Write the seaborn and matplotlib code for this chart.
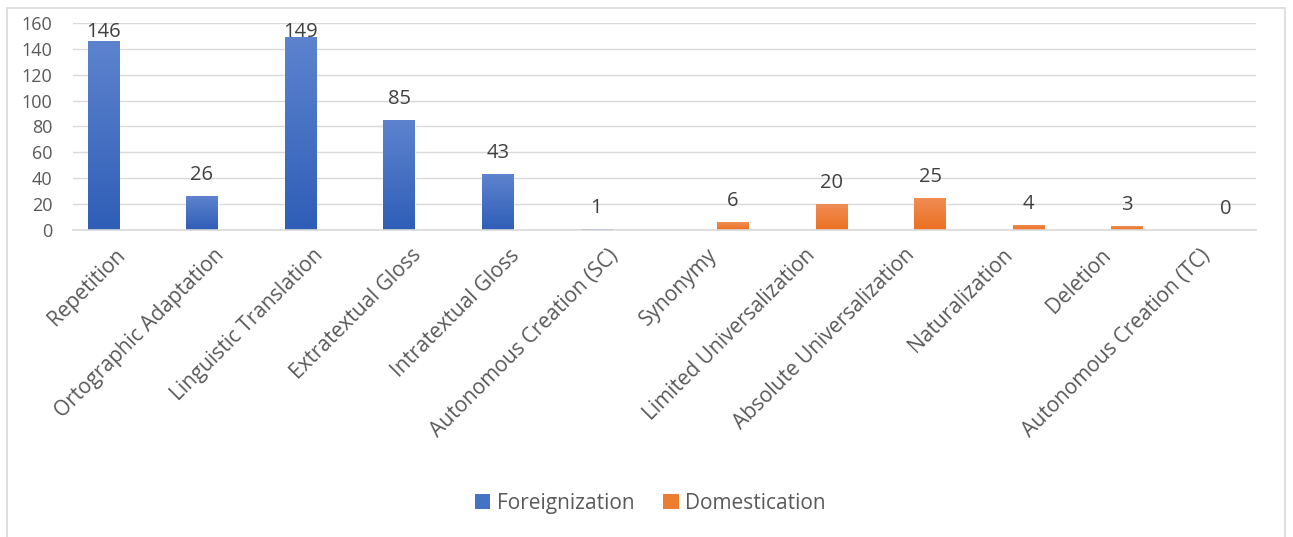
import numpy as np
import pandas as pd
import seaborn as sns
import matplotlib
matplotlib.use("Agg")
import matplotlib.pyplot as plt
from matplotlib.patches import Rectangle, Patch
from matplotlib.colors import LinearSegmentedColormap

# ---------------- data ----------------
categories = [
    "Repetition", "Ortographic Adaptation", "Linguistic Translation",
    "Extratextual Gloss", "Intratextual Gloss", "Autonomous Creation (SC)",
    "Synonymy", "Limited Universalization", "Absolute Universalization",
    "Naturalization", "Deletion", "Autonomous Creation (TC)",
]
foreign_categories = categories[:6]
domestic_categories = categories[6:]
foreignization = [146, 26, 149, 85, 43, 1]
domestication = [6, 20, 25, 4, 3, 0]
series = ["Foreignization", "Domestication"]
yticks = [0, 20, 40, 60, 80, 100, 120, 140, 160]

df = pd.DataFrame({
    "Category": foreign_categories + domestic_categories,
    "Value": foreignization + domestication,
    "Strategy": [series[0]] * len(foreignization) + [series[1]] * len(domestication),
})

# ---------------- style ----------------
sns.set_theme(style="white")
plt.rcParams["font.family"] = ["Open Sans", "DejaVu Sans"]

colors = {"Foreignization": "#4472C4", "Domestication": "#ED7D31"}
grads = {
    "Foreignization": ("#2F5EB7", "#5D83CE"),
    "Domestication": ("#EC7020", "#F08D55"),
}
text_dark = "#404040"
tick_col = "#595959"
grid_col = "#D9D9D9"

fig = plt.figure(figsize=(12.93, 5.37), dpi=100)
fig.patch.set_facecolor("white")
ax = fig.add_axes([0.0565, 0.5717, 0.915, 0.3855])

sns.barplot(
    data=df, x="Category", y="Value", hue="Strategy",
    order=categories, hue_order=series, palette=colors, dodge=True,
    width=0.77, gap=0.17, saturation=1, errorbar=None, ax=ax,
)
if ax.get_legend() is not None:
    ax.get_legend().remove()

ax.set_ylim(yticks[0], yticks[-1])
ax.set_xlim(-0.5, len(categories) - 0.5)
ax.set_yticks(yticks)
ax.yaxis.grid(True, color=grid_col, linewidth=1.0)
ax.set_axisbelow(True)
for s in ["top", "right", "left"]:
    ax.spines[s].set_visible(False)
ax.spines["bottom"].set_color(grid_col)
ax.spines["bottom"].set_linewidth(1.2)
ax.set_xlabel("")
ax.set_ylabel("")
ax.tick_params(axis="y", length=0, pad=15, labelsize=13, labelcolor=tick_col)
ax.tick_params(axis="x", length=0, pad=16, labelsize=15, labelcolor=tick_col)
for lab in ax.get_xticklabels():
    lab.set_rotation(45)
    lab.set_ha("right")
    lab.set_va("center")
    lab.set_rotation_mode("anchor")

# gradient fill for each bar
gvals = np.linspace(0, 1, 256).reshape(-1, 1)
for cont, name in zip(ax.containers, series):
    cmap = LinearSegmentedColormap.from_list(name, grads[name])
    for bar in cont:
        h = bar.get_height()
        if not np.isfinite(h) or h <= 0:
            continue
        x0 = bar.get_x()
        x1 = x0 + bar.get_width()
        im = ax.imshow(gvals, cmap=cmap, extent=[x0, x1, 0, h], origin="lower",
                       aspect="auto", zorder=bar.get_zorder() + 0.1,
                       interpolation="bilinear")
        im.set_clip_path(bar)
ax.set_ylim(yticks[0], yticks[-1])
ax.set_xlim(-0.5, len(categories) - 0.5)

# value labels (clamped inside the plot area like Excel)
top_px = ax.bbox.y1
off_pt = 12
off_px = off_pt * fig.dpi / 72
text_px = 14.5 * fig.dpi / 72 * 1.0
for cont in ax.containers:
    for bar, val in zip(cont, cont.datavalues):
        if not np.isfinite(val):
            continue
        x = bar.get_x() + bar.get_width() / 2
        y_px = ax.transData.transform((x, val))[1]
        if y_px + off_px + text_px > top_px:
            ax.annotate(f"{val:g}", (x, yticks[-1]), xytext=(0, 1),
                        textcoords="offset points", ha="center", va="top",
                        fontsize=14.5, color=text_dark, annotation_clip=False)
        else:
            ax.annotate(f"{val:g}", (x, val), xytext=(0, off_pt - 4),
                        textcoords="offset points", ha="center", va="bottom",
                        fontsize=14.5, color=text_dark, annotation_clip=False)

# legend
handles = [Patch(facecolor=colors[s], edgecolor="none") for s in series]
fig.legend(handles, series, loc="center", bbox_to_anchor=(0.503, 0.063), ncol=2,
           frameon=False, fontsize=15, labelcolor=tick_col,
           handlelength=0.75, handleheight=0.75, handletextpad=0.3, columnspacing=1.4)

# chart border
fig.patches.append(Rectangle((7 / 1293, -0.05), (1285 - 7) / 1293, 1.05 - 8 / 537,
                             transform=fig.transFigure, fill=False,
                             edgecolor="#D9D9D9", linewidth=1.2))

fig.savefig("out.png", dpi=100, facecolor="white")
